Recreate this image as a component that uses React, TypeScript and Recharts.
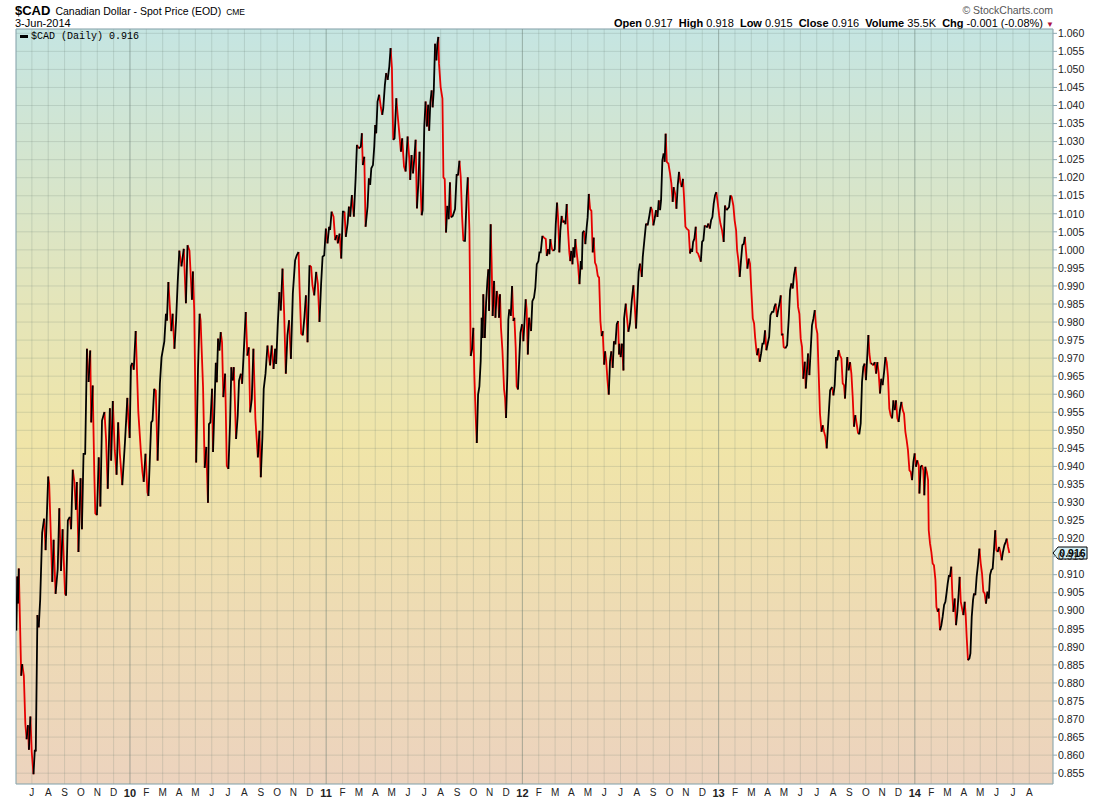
import { CartesianGrid, Line, LineChart, ReferenceArea, ReferenceLine, XAxis, YAxis } from "recharts";

// month letters from Jul 2009 to Aug 2014, two-digit entries mark January
const monthLabels = [
  "J", "A", "S", "O", "N", "D",
  "10", "F", "M", "A", "M", "J", "J", "A", "S", "O", "N", "D",
  "11", "F", "M", "A", "M", "J", "J", "A", "S", "O", "N", "D",
  "12", "F", "M", "A", "M", "J", "J", "A", "S", "O", "N", "D",
  "13", "F", "M", "A", "M", "J", "J", "A", "S", "O", "N", "D",
  "14", "F", "M", "A", "M", "J", "J", "A",
];
const firstMonth = -6; // Jul 2009, counted in months from Jan 2010

const priceTicks = [
  0.855, 0.86, 0.865, 0.87, 0.875, 0.88, 0.885, 0.89, 0.895, 0.9, 0.905, 0.91, 0.915, 0.92,
  0.925, 0.93, 0.935, 0.94, 0.945, 0.95, 0.955, 0.96, 0.965, 0.97, 0.975, 0.98, 0.985, 0.99,
  0.995, 1.0, 1.005, 1.01, 1.015, 1.02, 1.025, 1.03, 1.035, 1.04, 1.045, 1.05, 1.055, 1.06,
];

// time in months since Jan 2010 (fractional)
const months = [
  -6.95, -6.89, -6.85, -6.8, -6.65, -6.59, -6.49, -6.4, -6.32, -6.24, -6.18, -6.09, -6.01, -5.9, -5.82, -5.76,
  -5.66, -5.58, -5.49, -5.37, -5.25, -5.16, -5.0, -4.94, -4.75, -4.67, -4.55, -4.42, -4.32, -4.22, -4.12, -3.97,
  -3.91, -3.8, -3.68, -3.6, -3.5, -3.4, -3.31, -3.25, -3.15, -3.02, -2.94, -2.84, -2.74, -2.63, -2.53, -2.43,
  -2.37, -2.28, -2.18, -2.12, -2.02, -1.91, -1.81, -1.71, -1.56, -1.46, -1.36, -1.23, -1.15, -1.05, -0.93, -0.82,
  -0.72, -0.62, -0.47, -0.31, -0.16, -0.1, -0.02, 0.06, 0.14, 0.23, 0.35, 0.51, 0.66, 0.76, 0.84, 0.95,
  1.07, 1.13, 1.3, 1.38, 1.48, 1.58, 1.69, 1.83, 1.93, 2.1, 2.2, 2.26, 2.35, 2.45, 2.53, 2.61,
  2.72, 2.82, 2.92, 3.02, 3.15, 3.29, 3.42, 3.52, 3.64, 3.79, 3.85, 3.93, 4.05, 4.16, 4.26, 4.32,
  4.47, 4.57, 4.67, 4.77, 4.83, 4.92, 5.02, 5.08, 5.25,
  5.31, 5.39, 5.47, 5.55, 5.63, 5.71, 5.82, 5.92, 6.02, 6.12, 6.2, 6.29, 6.35, 6.49, 6.59, 6.67,
  6.78, 6.86, 7.0, 7.08, 7.18, 7.27, 7.35, 7.45, 7.55, 7.67, 7.82, 7.92, 8.0, 8.1, 8.18, 8.29,
  8.41, 8.57, 8.67, 8.78, 8.88, 8.94, 9.04, 9.14, 9.22, 9.33, 9.43, 9.53, 9.63, 9.73, 9.84, 9.96,
  10.1, 10.2, 10.31, 10.37, 10.47, 10.57, 10.67, 10.76, 10.86, 10.98, 11.08, 11.16, 11.27, 11.39, 11.49, 11.59,
  11.69, 11.78, 11.88, 11.98, 12.08, 12.18, 12.24, 12.33, 12.45, 12.55, 12.65, 12.71, 12.82, 12.92, 13.02, 13.12,
  13.2, 13.31, 13.39, 13.47, 13.57, 13.69, 13.8, 13.88, 14.0, 14.12, 14.18, 14.24, 14.33, 14.41, 14.53, 14.61,
  14.69, 14.76, 14.86, 14.94, 15.0, 15.06, 15.14, 15.24, 15.35, 15.43, 15.49, 15.59, 15.67, 15.76, 15.86, 15.94,
  16.02, 16.1, 16.18, 16.29, 16.37, 16.49, 16.57, 16.65, 16.76, 16.86, 16.98, 17.08, 17.14, 17.22, 17.31, 17.39,
  17.47, 17.55, 17.63, 17.71, 17.76, 17.84, 17.9, 18.0, 18.08, 18.16, 18.24,
  18.3, 18.37, 18.45, 18.51, 18.58, 18.66, 18.74, 18.8, 18.86, 18.9, 19.0, 19.11, 19.17, 19.25, 19.33, 19.41,
  19.49, 19.57, 19.64, 19.74, 19.88, 19.98, 20.06, 20.15, 20.23, 20.31, 20.39, 20.49, 20.59, 20.66, 20.76, 20.84,
  20.92, 21.0, 21.06, 21.14, 21.21, 21.29, 21.37, 21.45, 21.51, 21.57, 21.61, 21.7, 21.78, 21.86, 21.92, 21.96,
  22.06, 22.12, 22.18, 22.27, 22.35, 22.43, 22.51, 22.57, 22.63, 22.69, 22.78, 22.88, 22.94, 23.0, 23.08, 23.14,
  23.2, 23.29, 23.37, 23.45, 23.51, 23.59, 23.65, 23.73, 23.82, 23.88, 23.98, 24.06, 24.14, 24.2, 24.26, 24.33,
  24.41, 24.47, 24.53, 24.61, 24.71, 24.79, 24.88, 24.98, 25.04, 25.12, 25.22, 25.32, 25.43, 25.49, 25.57, 25.65,
  25.71, 25.81, 25.89, 25.98, 26.04, 26.12, 26.18, 26.26, 26.32, 26.4, 26.49, 26.57, 26.63, 26.71, 26.79, 26.87,
  26.93, 26.99, 27.06, 27.12, 27.18, 27.24, 27.32, 27.4, 27.49, 27.57, 27.63, 27.69, 27.77, 27.85, 27.93, 27.99,
  28.06, 28.14, 28.22, 28.3, 28.36, 28.44, 28.52, 28.61, 28.69, 28.77, 28.85, 28.91, 29.0, 29.06, 29.12, 29.2,
  29.28, 29.36, 29.44, 29.52, 29.6, 29.69, 29.77, 29.85, 29.91,
  29.93, 30.01, 30.09, 30.18, 30.22, 30.32, 30.4, 30.48, 30.58, 30.69, 30.79, 30.87, 30.95, 31.03, 31.11, 31.19,
  31.3, 31.36, 31.46, 31.56, 31.66, 31.77, 31.85, 31.93, 32.01, 32.09, 32.17, 32.26, 32.34, 32.42, 32.48, 32.56,
  32.64, 32.7, 32.76, 32.83, 32.93, 33.03, 33.11, 33.19, 33.25, 33.34, 33.42, 33.5, 33.58, 33.66, 33.74, 33.82,
  33.89, 33.97, 34.05, 34.17, 34.25, 34.31, 34.38, 34.44, 34.52, 34.6, 34.66, 34.74, 34.82, 34.91, 34.99, 35.07,
  35.15, 35.23, 35.31, 35.37, 35.46, 35.54, 35.62, 35.7, 35.78, 35.86, 35.95, 36.03, 36.11, 36.21, 36.31, 36.39,
  36.48, 36.56, 36.64, 36.72, 36.8, 36.9, 36.98, 37.07, 37.13, 37.21, 37.29, 37.37, 37.45, 37.54, 37.6, 37.68,
  37.76, 37.84, 37.92, 38.0, 38.09, 38.17, 38.23, 38.29, 38.35, 38.43, 38.51, 38.6, 38.68, 38.76, 38.84, 38.92,
  39.0, 39.09, 39.17, 39.27, 39.35, 39.41, 39.49, 39.57, 39.66, 39.74, 39.8, 39.86, 39.92, 39.98, 40.08, 40.19,
  40.29, 40.37, 40.45, 40.53, 40.61, 40.7, 40.78, 40.86, 40.94, 41.02, 41.1, 41.18, 41.27, 41.33, 41.41, 41.47,
  41.55, 41.63, 41.71, 41.8, 41.88, 41.96, 42.04, 42.12, 42.2, 42.29, 42.37, 42.45, 42.53, 42.61, 42.71, 42.82,
  42.94, 43.02, 43.1, 43.18, 43.26, 43.34, 43.42, 43.51, 43.59, 43.67, 43.73, 43.81, 43.87, 43.95, 44.04, 44.12,
  44.2, 44.28, 44.36, 44.44, 44.53, 44.61, 44.69, 44.77, 44.85, 44.93, 45.01, 45.1, 45.16, 45.22, 45.3, 45.38,
  45.46, 45.55, 45.63, 45.71, 45.79, 45.87, 45.95, 46.03, 46.12, 46.2, 46.28, 46.36, 46.44, 46.52, 46.61, 46.69,
  46.77, 46.85, 46.93, 47.01, 47.09, 47.18, 47.26, 47.34, 47.42, 47.5, 47.58, 47.67, 47.75, 47.83, 47.91, 47.99,
  48.07, 48.15, 48.24, 48.28, 48.36, 48.44, 48.52, 48.58, 48.64, 48.73, 48.81, 48.85, 48.93, 49.01, 49.09, 49.17,
  49.26, 49.32, 49.4, 49.46, 49.54, 49.62, 49.7, 49.79, 49.87, 49.95, 50.01, 50.09, 50.15, 50.23, 50.3, 50.36,
  50.44, 50.52, 50.6, 50.68, 50.74, 50.81, 50.89, 50.97, 51.05, 51.11, 51.17, 51.25, 51.34, 51.4, 51.48, 51.56,
  51.62, 51.7, 51.78, 51.87, 51.95, 52.03, 52.11, 52.19, 52.27, 52.35, 52.44, 52.52, 52.6, 52.68, 52.76, 52.84,
  52.92, 52.99, 53.07, 53.15, 53.23, 53.31, 53.39, 53.48, 53.56, 53.62, 53.7, 53.78,
];

const closes = [
  0.8945, 0.9095, 0.902, 0.9117, 0.882, 0.8852, 0.882, 0.8687, 0.8644, 0.8683, 0.8615, 0.8707, 0.861, 0.8547, 0.8615, 0.861,
  0.8988, 0.8954, 0.9032, 0.9217, 0.9255, 0.9168, 0.9372, 0.9352, 0.908, 0.9197, 0.9047, 0.9115, 0.9284, 0.911, 0.9226, 0.9047,
  0.9042, 0.925, 0.926, 0.9226, 0.9391, 0.9357, 0.928, 0.9357, 0.9163, 0.9367, 0.9226, 0.9435, 0.9435, 0.9726, 0.9634, 0.9721,
  0.9522, 0.9624, 0.9377, 0.927, 0.9265, 0.9425, 0.9289, 0.9527, 0.9551, 0.9474, 0.9338, 0.9561, 0.9416, 0.9581, 0.9445, 0.9377,
  0.9522, 0.9435, 0.9348, 0.9464, 0.959, 0.9532, 0.9479, 0.9678, 0.9687, 0.9668, 0.9775, 0.9551, 0.9445, 0.9386, 0.9357, 0.9435,
  0.9328, 0.9318, 0.9522, 0.9527, 0.9615, 0.961, 0.9416, 0.9629, 0.9702, 0.9746, 0.9823, 0.9804, 0.9911, 0.9833, 0.9775, 0.9823,
  0.9726, 0.9804, 0.9911, 0.9998, 0.9954, 1.0003, 0.9852, 1.0013, 0.9998, 0.9862, 0.994, 0.9833, 0.9411, 0.9668, 0.9823, 0.9804,
  0.9619, 0.9396, 0.9454, 0.9299, 0.9517, 0.9522, 0.9615, 0.944, 0.9687,
  0.9633, 0.9754, 0.9721, 0.9772, 0.9744, 0.9592, 0.9657, 0.9402, 0.9393, 0.9518, 0.9675, 0.9638, 0.9675, 0.9476, 0.9541, 0.9638,
  0.9657, 0.9629, 0.9754, 0.9828, 0.9707, 0.973, 0.955, 0.9587, 0.9726, 0.9532, 0.9425, 0.9499, 0.937, 0.9481, 0.9615, 0.9657,
  0.9735, 0.968, 0.9735, 0.967, 0.9726, 0.9684, 0.9795, 0.9883, 0.9832, 0.9948, 0.9823, 0.9657, 0.9763, 0.9805, 0.9698, 0.9879,
  0.9971, 0.9985, 0.9994, 0.9897, 0.9768, 0.9763, 0.9814, 0.9874, 0.9744, 0.9957, 0.9953, 0.9902, 0.9874, 0.9939, 0.9906, 0.98,
  0.9906, 0.9981, 0.9985, 1.0059, 1.0018, 1.0064, 1.0055, 1.0106, 1.0092, 1.0027, 1.0041, 1.0018, 1.0045, 0.9976, 1.0106, 1.0106,
  1.0036, 1.0073, 1.012, 1.0092, 1.0152, 1.0092, 1.0198, 1.0291, 1.0281, 1.0286, 1.0323, 1.0235, 1.0258, 1.0064, 1.012, 1.0198,
  1.018, 1.0226, 1.0235, 1.0286, 1.0346, 1.0323, 1.0411, 1.043, 1.0393, 1.0374, 1.0393, 1.0457, 1.049, 1.0471, 1.0508, 1.0559,
  1.0504, 1.0305, 1.0309, 1.042, 1.0374, 1.0314, 1.0272, 1.0309, 1.0231, 1.0217, 1.0314, 1.0254, 1.0194, 1.0263, 1.0212, 1.0254,
  1.0305, 1.0115, 1.018, 1.0272, 1.0194, 1.0096, 1.011, 1.0342, 1.0411, 1.0342, 1.0402,
  1.033, 1.0409, 1.0442, 1.0395, 1.0442, 1.0571, 1.0525, 1.0571, 1.059, 1.0516, 1.0451, 1.0419, 1.0201, 1.0196, 1.0048, 1.0122,
  1.0085, 1.0187, 1.009, 1.0094, 1.0113, 1.021, 1.0206, 1.0247, 1.0201, 1.0094, 1.0025, 1.0025, 1.0145, 1.0201, 1.0053, 0.9706,
  0.9724, 0.9784, 0.9655, 0.9544, 0.9465, 0.9599, 0.9622, 0.9692, 0.9812, 0.9756, 0.9877, 0.9756, 0.9854, 0.9914, 0.9946, 0.9831,
  1.0071, 0.996, 0.9817, 0.9914, 0.9812, 0.9886, 0.9868, 0.9812, 0.9877, 0.9784, 0.972, 0.9613, 0.959, 0.9534, 0.9655, 0.9807,
  0.9835, 0.9817, 0.99, 0.9803, 0.9812, 0.9729, 0.9622, 0.9613, 0.971, 0.977, 0.9794, 0.9747, 0.9812, 0.9863, 0.9835, 0.971,
  0.9812, 0.9794, 0.9775, 0.9858, 0.9868, 0.9895, 0.996, 0.9969, 0.9993, 0.9993, 1.0039, 1.0034, 1.003, 0.9983, 1.0002, 0.9988,
  1.003, 1.0002, 0.9997, 1.0002, 1.0071, 1.0131, 1.009, 0.9993, 1.0053, 1.0094, 1.0076, 1.0081, 1.0071, 1.0127, 1.0053, 0.9993,
  0.9969, 0.9997, 0.996, 1.0007, 0.9979, 1.003, 0.9993, 0.996, 0.9905, 0.9969, 0.9946, 1.0048, 1.0053, 1.0016, 1.0062, 1.009,
  1.0155, 1.0113, 1.0108, 0.9993, 1.0034, 0.9965, 0.9956, 0.9928, 0.9923, 0.9803, 0.9761, 0.9775, 0.9682, 0.9719, 0.9696, 0.9641,
  0.9599, 0.9692, 0.9719, 0.9673, 0.9747, 0.9738, 0.9794, 0.9803, 0.971,
  0.974, 0.9703, 0.974, 0.9666, 0.981, 0.9851, 0.981, 0.9773, 0.9796, 0.986, 0.9902, 0.9847, 0.9782, 0.986, 0.9939, 0.9962,
  0.9925, 0.998, 1.0027, 1.0073, 1.0068, 1.0096, 1.0119, 1.011, 1.0068, 1.0087, 1.011, 1.0091, 1.0137, 1.011, 1.0137, 1.0248,
  1.0267, 1.0244, 1.0322, 1.0244, 1.0239, 1.0211, 1.0184, 1.0133, 1.0174, 1.0156, 1.0114, 1.0179, 1.0216, 1.0188, 1.0174, 1.0197,
  1.0142, 1.0064, 1.0059, 1.0054, 0.999, 1.0003, 0.9994, 1.0022, 1.0031, 1.0064, 0.9994, 0.999, 0.998, 0.9967, 1.0022, 1.0027,
  1.0068, 1.0064, 1.0064, 1.0073, 1.0059, 1.0082, 1.0091, 1.0128, 1.0151, 1.016, 1.0128, 1.0096, 1.0073, 1.0054, 1.0022, 1.0123,
  1.011, 1.0114, 1.0119, 1.0151, 1.0147, 1.0123, 1.0082, 1.0054, 0.9999, 0.9971, 0.9925, 0.9971, 1.0013, 1.0017, 1.0036, 0.9994,
  0.9948, 0.9976, 0.9962, 0.9888, 0.981, 0.9796, 0.9759, 0.9731, 0.9708, 0.9727, 0.969, 0.9713, 0.974, 0.974, 0.9777, 0.9722,
  0.974, 0.9759, 0.9819, 0.9828, 0.9828, 0.9842, 0.9851, 0.9814, 0.9837, 0.9856, 0.9874, 0.9763, 0.9768, 0.9731, 0.9727, 0.9736,
  0.981, 0.9888, 0.9907, 0.9893, 0.993, 0.9953, 0.9911, 0.9842, 0.9823, 0.9754, 0.9731, 0.9643, 0.969, 0.9616, 0.9671, 0.9713,
  0.9653, 0.9722, 0.9791, 0.981, 0.9833, 0.9786, 0.9768, 0.9657, 0.9546, 0.9496, 0.9514, 0.9496, 0.9482, 0.945, 0.9528, 0.9611,
  0.962, 0.9597, 0.9625, 0.9703, 0.9694, 0.9722, 0.9708, 0.9699, 0.963, 0.9625, 0.9588, 0.9653, 0.9703, 0.9666, 0.9689, 0.9657,
  0.9593, 0.951, 0.9542, 0.9519, 0.9491, 0.9491, 0.9519, 0.9634, 0.9676, 0.9685, 0.9639, 0.9713, 0.9764, 0.9713, 0.9685, 0.9685,
  0.968, 0.9689, 0.9657, 0.9689, 0.9657, 0.9602, 0.9643, 0.9625, 0.9662, 0.9703, 0.9689, 0.9648, 0.956, 0.9542, 0.9533, 0.9583,
  0.9556, 0.9583, 0.9533, 0.9523, 0.9556, 0.9579, 0.9556, 0.9546, 0.9496, 0.9473, 0.9445, 0.9389, 0.9385, 0.9362, 0.9412, 0.9436,
  0.9399, 0.9417, 0.9403, 0.9325, 0.9399, 0.9403, 0.9389, 0.932, 0.9399, 0.9385, 0.9362, 0.9223, 0.9186, 0.9163, 0.9131, 0.9126,
  0.9085, 0.9011, 0.8997, 0.9006, 0.8946, 0.896, 0.8983, 0.9016, 0.9025, 0.9053, 0.9076, 0.9099, 0.9094, 0.9122, 0.9039, 0.8997,
  0.9034, 0.896, 0.8997, 0.9048, 0.9094, 0.9025, 0.9006, 0.8988, 0.9025, 0.8988, 0.8928, 0.8863, 0.8868, 0.8882, 0.8983, 0.903,
  0.9048, 0.9043, 0.9094, 0.9131, 0.9172, 0.9131, 0.9103, 0.9053, 0.9048, 0.902, 0.9053, 0.9034, 0.9099, 0.9113, 0.9117, 0.9168,
  0.9223, 0.9168, 0.9163, 0.9177, 0.9163, 0.914, 0.9163, 0.9182, 0.9191, 0.92, 0.9177, 0.916,
];

const lastClose = 0.916;

const T_MIN = -6.97;
const T_MAX = 56.45;
const Y_MIN = 0.852;
const Y_MAX = 1.0612;

const sans = "'Liberation Sans', Arial, sans-serif";
const mono = "'Liberation Mono', 'DejaVu Sans Mono', monospace";
const frame = "#8eaab3";

const monthTicks = monthLabels.map((_, i) => firstMonth + i);
const yearTicks = monthTicks.filter((_, i) => monthLabels[i].length === 2);

type Row = { t: number; upA?: number; upB?: number; dnA?: number; dnB?: number };

// split the close series into rising (black) and falling (red) runs,
// alternating between two keys so neighbouring runs never get joined
function buildRows(): Row[] {
  const rows: Row[] = months.map((t) => ({ t }));
  let i = 0;
  let ups = 0;
  let downs = 0;
  while (i < closes.length - 1) {
    const rising = closes[i + 1] >= closes[i];
    let j = i + 1;
    while (j < closes.length - 1 && closes[j + 1] >= closes[j] === rising) j++;
    const key = rising ? (ups++ % 2 ? "upB" : "upA") : downs++ % 2 ? "dnB" : "dnA";
    for (let k = i; k <= j; k++) rows[k][key] = closes[k];
    i = j;
  }
  return rows;
}

const rows = buildRows();

function MonthTick(props: any) {
  const { x, y, payload } = props;
  const label = monthLabels[monthTicks.indexOf(payload.value)];
  const isYear = label.length === 2;
  return (
    <text
      x={x}
      y={y}
      dy="0.71em"
      textAnchor="middle"
      fontFamily={sans}
      fontSize={isYear ? 11 : 10}
      fontWeight={isYear ? 700 : 400}
      fill="#222"
    >
      {label}
    </text>
  );
}

function PriceTag(props: any) {
  const vb = props.viewBox || {};
  const left = (vb.x || 0) + (vb.width || 0);
  const cy = vb.y || 0;
  const pts = [
    [left, cy],
    [left + 5, cy - 6],
    [left + 34, cy - 6],
    [left + 34, cy + 6],
    [left + 5, cy + 6],
  ]
    .map((p) => p.join(","))
    .join(" ");
  return (
    <g>
      <polygon points={pts} fill="#d3eff6" stroke="#000" strokeWidth={1} />
      <text x={left + 19.5} y={cy + 4} textAnchor="middle" fontFamily={sans} fontSize={10.5} fontWeight={700} fill="#000">
        {lastClose.toFixed(3)}
      </text>
    </g>
  );
}

export default function App() {
  const lineProps = {
    type: "linear" as const,
    dot: false,
    activeDot: false,
    strokeWidth: 1.8,
    isAnimationActive: false,
    connectNulls: false,
  };
  return (
    <div style={{ position: "absolute", left: 0, top: 0, width: 1100, height: 800, background: "#fff", fontFamily: sans }}>
      <div style={{ position: "absolute", left: 15, top: 3, whiteSpace: "nowrap", lineHeight: "14px", color: "#000" }}>
        <span style={{ fontSize: 13, fontWeight: 700 }}>$CAD</span>
        <span style={{ fontSize: 10.5, marginLeft: 5 }}>Canadian Dollar - Spot Price (EOD)</span>
        <span style={{ fontSize: 8.5, marginLeft: 5 }}>CME</span>
      </div>
      <div style={{ position: "absolute", left: 15, top: 17, fontSize: 11, lineHeight: "13px", color: "#000" }}>3-Jun-2014</div>
      <div style={{ position: "absolute", right: 47, top: 4, fontSize: 10.5, lineHeight: "13px", color: "#555" }}>
        © StockCharts.com
      </div>
      <div style={{ position: "absolute", right: 46, top: 17, fontSize: 11, lineHeight: "13px", color: "#000", whiteSpace: "nowrap" }}>
        <b>Open</b> 0.917&nbsp; <b>High</b> 0.918&nbsp; <b>Low</b> 0.915&nbsp; <b>Close</b> 0.916&nbsp; <b>Volume</b> 35.5K&nbsp;{" "}
        <b>Chg</b> -0.001 (-0.08%) <span style={{ color: "#b01040", fontSize: 8 }}>▼</span>
      </div>

      <LineChart width={1100} height={800} data={rows} margin={{ top: 29, right: 0, bottom: 0, left: 16 }}>
        <defs>
          <linearGradient id="bg" x1="0" y1="0" x2="0" y2="1">
            <stop offset="0%" stopColor="#c5e5e2" />
            <stop offset="35%" stopColor="#e3e5bb" />
            <stop offset="55%" stopColor="#f0e5a8" />
            <stop offset="78%" stopColor="#eedbb4" />
            <stop offset="100%" stopColor="#ecd3be" />
          </linearGradient>
        </defs>
        <CartesianGrid fill="url(#bg)" fillOpacity={1} stroke="#64786e" strokeOpacity={0.2} />
        <XAxis
          type="number"
          dataKey="t"
          domain={[T_MIN, T_MAX]}
          ticks={monthTicks}
          interval={0}
          allowDataOverflow
          axisLine={false}
          tickLine={false}
          tickSize={3}
          tickMargin={2}
          height={16}
          tick={<MonthTick />}
        />
        <YAxis
          orientation="right"
          type="number"
          domain={[Y_MIN, Y_MAX]}
          ticks={priceTicks}
          interval={0}
          allowDataOverflow
          width={47}
          axisLine={false}
          tickLine={{ stroke: frame }}
          tickSize={4}
          tickMargin={1}
          tick={{ fontSize: 10.5, fill: "#222", fontFamily: sans }}
          tickFormatter={(v: number) => v.toFixed(3)}
        />
        {yearTicks.map((t) => (
          <ReferenceLine key={t} x={t} stroke="#64786e" strokeOpacity={0.36} />
        ))}
        <ReferenceArea x1={T_MIN} x2={T_MAX} y1={Y_MIN} y2={Y_MAX} fill="none" stroke={frame} strokeWidth={1} />
        <Line {...lineProps} dataKey="dnA" stroke="#e60000" />
        <Line {...lineProps} dataKey="dnB" stroke="#e60000" />
        <Line {...lineProps} dataKey="upA" stroke="#000" />
        <Line {...lineProps} dataKey="upB" stroke="#000" />
        <ReferenceLine y={lastClose} stroke="none" label={(p: any) => <PriceTag {...p} />} />
      </LineChart>

      <div style={{ position: "absolute", left: 20, top: 31, whiteSpace: "nowrap", fontFamily: mono, fontSize: 10, lineHeight: "11px" }}>
        <span style={{ display: "inline-block", width: 8, height: 3, background: "#000", verticalAlign: "middle", marginRight: 3 }} />
        $CAD (Daily) 0.916
      </div>
    </div>
  );
}
